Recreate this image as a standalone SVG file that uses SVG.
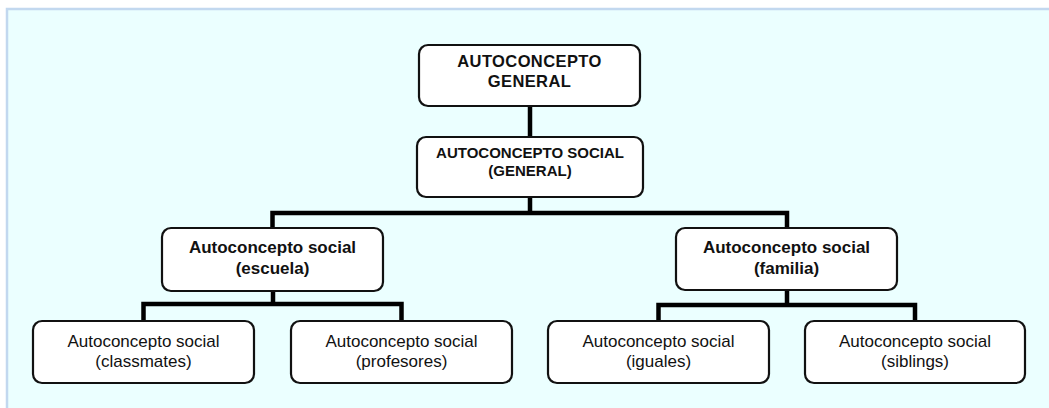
<svg xmlns="http://www.w3.org/2000/svg" width="1049" height="408" viewBox="0 0 1049 408">
<style>
.box{fill:#ffffff;stroke:#111111;stroke-width:2.2}
.t{font-family:"Liberation Sans",Arial,sans-serif;fill:#111111;text-anchor:middle}
.b{font-weight:bold}
.conn{fill:none;stroke:#000000;stroke-width:4.5;stroke-linejoin:miter;stroke-linecap:square}
</style>
<rect x="0" y="0" width="1049" height="408" fill="#ffffff"/>
<rect x="7" y="9" width="1046" height="404" fill="#ebffff" stroke="#c2d8ef" stroke-width="2.5"/>
<g id="connectors">
<path class="conn" d="M530 106 V137"/>
<path class="conn" d="M530 197 V213 M272.5 228 V213 H787 V228"/>
<path class="conn" d="M273 291 V304 M143.5 321 V304 H401.5 V321"/>
<path class="conn" d="M787 290 V305 M658.5 321 V305 H915 V321"/>
</g>
<g id="n-general">
<rect class="box" x="419" y="45" width="221" height="61" rx="9"/>
<text class="t b" x="529.5" y="67" font-size="16.5" letter-spacing="0.4">AUTOCONCEPTO</text>
<text class="t b" x="529.5" y="87" font-size="16.5" letter-spacing="0.4">GENERAL</text>
</g>
<g id="n-social">
<rect class="box" x="417" y="137" width="226" height="60" rx="9"/>
<text class="t b" x="530" y="158" font-size="15">AUTOCONCEPTO SOCIAL</text>
<text class="t b" x="530" y="176" font-size="15">(GENERAL)</text>
</g>
<g id="n-escuela">
<rect class="box" x="162" y="228" width="221" height="63" rx="9"/>
<text class="t b" x="272.5" y="253" font-size="17">Autoconcepto social</text>
<text class="t b" x="272.5" y="274" font-size="17">(escuela)</text>
</g>
<g id="n-familia">
<rect class="box" x="676" y="228" width="221" height="62" rx="9"/>
<text class="t b" x="786.5" y="253" font-size="17">Autoconcepto social</text>
<text class="t b" x="786.5" y="274" font-size="17">(familia)</text>
</g>
<g id="n-classmates">
<rect class="box" x="33" y="321" width="221" height="62" rx="9"/>
<text class="t" x="143.5" y="347" font-size="17">Autoconcepto social</text>
<text class="t" x="143.5" y="367" font-size="17">(classmates)</text>
</g>
<g id="n-profesores">
<rect class="box" x="291" y="321" width="221" height="62" rx="9"/>
<text class="t" x="401.5" y="347" font-size="17">Autoconcepto social</text>
<text class="t" x="401.5" y="367" font-size="17">(profesores)</text>
</g>
<g id="n-iguales">
<rect class="box" x="548" y="321" width="221" height="62" rx="9"/>
<text class="t" x="658.5" y="347" font-size="17">Autoconcepto social</text>
<text class="t" x="658.5" y="367" font-size="17">(iguales)</text>
</g>
<g id="n-siblings">
<rect class="box" x="805" y="321" width="220" height="62" rx="9"/>
<text class="t" x="915" y="347" font-size="17">Autoconcepto social</text>
<text class="t" x="915" y="367" font-size="17">(siblings)</text>
</g>
</svg>
